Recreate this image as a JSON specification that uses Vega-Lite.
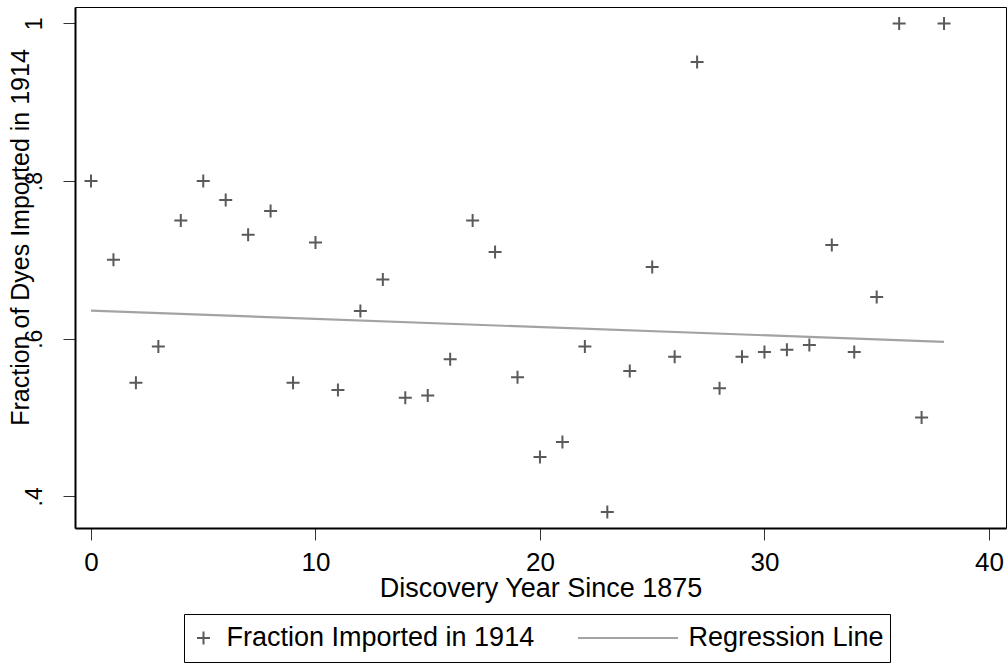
{
  "$schema": "https://vega.github.io/schema/vega-lite/v6.json",
  "width": 931,
  "height": 521,
  "autosize": {"type": "none"},
  "padding": {"left": 75, "top": 7, "right": 2, "bottom": 136},
  "background": "white",
  "datasets": {
    "points": [
      {"year": 0, "fraction": 0.80, "series": "Fraction Imported in 1914"},
      {"year": 1, "fraction": 0.70, "series": "Fraction Imported in 1914"},
      {"year": 2, "fraction": 0.544, "series": "Fraction Imported in 1914"},
      {"year": 3, "fraction": 0.590, "series": "Fraction Imported in 1914"},
      {"year": 4, "fraction": 0.750, "series": "Fraction Imported in 1914"},
      {"year": 5, "fraction": 0.80, "series": "Fraction Imported in 1914"},
      {"year": 6, "fraction": 0.776, "series": "Fraction Imported in 1914"},
      {"year": 7, "fraction": 0.732, "series": "Fraction Imported in 1914"},
      {"year": 8, "fraction": 0.762, "series": "Fraction Imported in 1914"},
      {"year": 9, "fraction": 0.544, "series": "Fraction Imported in 1914"},
      {"year": 10, "fraction": 0.722, "series": "Fraction Imported in 1914"},
      {"year": 11, "fraction": 0.535, "series": "Fraction Imported in 1914"},
      {"year": 12, "fraction": 0.635, "series": "Fraction Imported in 1914"},
      {"year": 13, "fraction": 0.675, "series": "Fraction Imported in 1914"},
      {"year": 14, "fraction": 0.525, "series": "Fraction Imported in 1914"},
      {"year": 15, "fraction": 0.528, "series": "Fraction Imported in 1914"},
      {"year": 16, "fraction": 0.574, "series": "Fraction Imported in 1914"},
      {"year": 17, "fraction": 0.750, "series": "Fraction Imported in 1914"},
      {"year": 18, "fraction": 0.710, "series": "Fraction Imported in 1914"},
      {"year": 19, "fraction": 0.551, "series": "Fraction Imported in 1914"},
      {"year": 20, "fraction": 0.450, "series": "Fraction Imported in 1914"},
      {"year": 21, "fraction": 0.469, "series": "Fraction Imported in 1914"},
      {"year": 22, "fraction": 0.590, "series": "Fraction Imported in 1914"},
      {"year": 23, "fraction": 0.380, "series": "Fraction Imported in 1914"},
      {"year": 24, "fraction": 0.559, "series": "Fraction Imported in 1914"},
      {"year": 25, "fraction": 0.691, "series": "Fraction Imported in 1914"},
      {"year": 26, "fraction": 0.577, "series": "Fraction Imported in 1914"},
      {"year": 27, "fraction": 0.951, "series": "Fraction Imported in 1914"},
      {"year": 28, "fraction": 0.537, "series": "Fraction Imported in 1914"},
      {"year": 29, "fraction": 0.577, "series": "Fraction Imported in 1914"},
      {"year": 30, "fraction": 0.583, "series": "Fraction Imported in 1914"},
      {"year": 31, "fraction": 0.586, "series": "Fraction Imported in 1914"},
      {"year": 32, "fraction": 0.592, "series": "Fraction Imported in 1914"},
      {"year": 33, "fraction": 0.719, "series": "Fraction Imported in 1914"},
      {"year": 34, "fraction": 0.583, "series": "Fraction Imported in 1914"},
      {"year": 35, "fraction": 0.653, "series": "Fraction Imported in 1914"},
      {"year": 36, "fraction": 1.0, "series": "Fraction Imported in 1914"},
      {"year": 37, "fraction": 0.50, "series": "Fraction Imported in 1914"},
      {"year": 38, "fraction": 1.0, "series": "Fraction Imported in 1914"}
    ],
    "line": [
      {"year": 0, "fraction": 0.6355, "series": "Regression Line"},
      {"year": 38, "fraction": 0.596, "series": "Regression Line"}
    ]
  },
  "encoding": {
    "x": {
      "field": "year", "type": "quantitative",
      "scale": {"domain": [-0.713, 40.76], "nice": false, "zero": false},
      "axis": {
        "values": [0, 10, 20, 30, 40],
        "title": "Discovery Year Since 1875",
        "grid": false,
        "tickSize": 12,
        "labelPadding": 9,
        "titlePadding": 0,
        "labelFont": "Liberation Sans",
        "labelFontSize": 26,
        "titleFont": "Liberation Sans",
        "titleFontSize": 27,
        "titleFontWeight": "normal"
      }
    },
    "y": {
      "field": "fraction", "type": "quantitative",
      "scale": {"domain": [0.3598, 1.0208], "nice": false, "zero": false},
      "axis": {
        "values": [0.4, 0.6, 0.8, 1],
        "labelExpr": "datum.value >= 1 ? '1' : replace(format(datum.value, '.1f'), '0.', '.')",
        "title": "Fraction of Dyes Imported in 1914",
        "grid": false,
        "tickSize": 12,
        "labelPadding": 17,
        "labelAngle": 270,
        "labelAlign": "center",
        "labelBaseline": "bottom",
        "labelFont": "Liberation Sans",
        "labelFontSize": 23,
        "titleFont": "Liberation Sans",
        "titleFontSize": 25,
        "titleFontWeight": "normal",
        "titleAngle": 270,
        "titleX": -55,
        "titleY": 230,
        "titleAlign": "center",
        "titleBaseline": "middle"
      }
    }
  },
  "layer": [
    {
      "data": {"name": "line"},
      "mark": {"type": "line", "strokeWidth": 2.2},
      "encoding": {
        "color": {
          "field": "series", "type": "nominal",
          "scale": {"domain": ["Fraction Imported in 1914", "Regression Line"], "range": ["#5a5a5a", "#a3a3a3"]}
        }
      }
    },
    {
      "data": {"name": "points"},
      "mark": {"type": "point", "filled": false, "strokeWidth": 2, "opacity": 1},
      "encoding": {
        "color": {
          "field": "series", "type": "nominal",
          "scale": {"domain": ["Fraction Imported in 1914", "Regression Line"], "range": ["#5a5a5a", "#a3a3a3"]},
          "legend": {
            "title": null,
            "orient": "none",
            "legendX": 109,
            "legendY": 607,
            "direction": "horizontal",
            "padding": 6,
            "clipHeight": 36,
            "strokeColor": "#000",
            "labelFont": "Liberation Sans",
            "labelFontSize": 27,
            "labelColor": "#000",
            "labelLimit": 500,
            "labelOffset": 9.5,
            "columnPadding": 42,
            "symbolStrokeWidth": 2
          }
        },
        "shape": {
          "field": "series", "type": "nominal",
          "scale": {"domain": ["Fraction Imported in 1914", "Regression Line"], "range": ["M-1,0L1,0M0,-1L0,1", "M-1,0L1,0"]}
        },
        "size": {
          "field": "series", "type": "nominal",
          "scale": {"type": "point", "padding": 0, "domain": ["Fraction Imported in 1914", "Regression Line"], "range": [169, 10000]}
        }
      }
    }
  ],
  "config": {
    "view": {"stroke": "#000", "strokeWidth": 1},
    "axis": {
      "domainColor": "#000",
      "domainWidth": 2,
      "tickColor": "#333",
      "tickWidth": 1,
      "labelColor": "#000",
      "titleColor": "#000"
    },
    "legend": {"strokeWidth": 1}
  }
}
